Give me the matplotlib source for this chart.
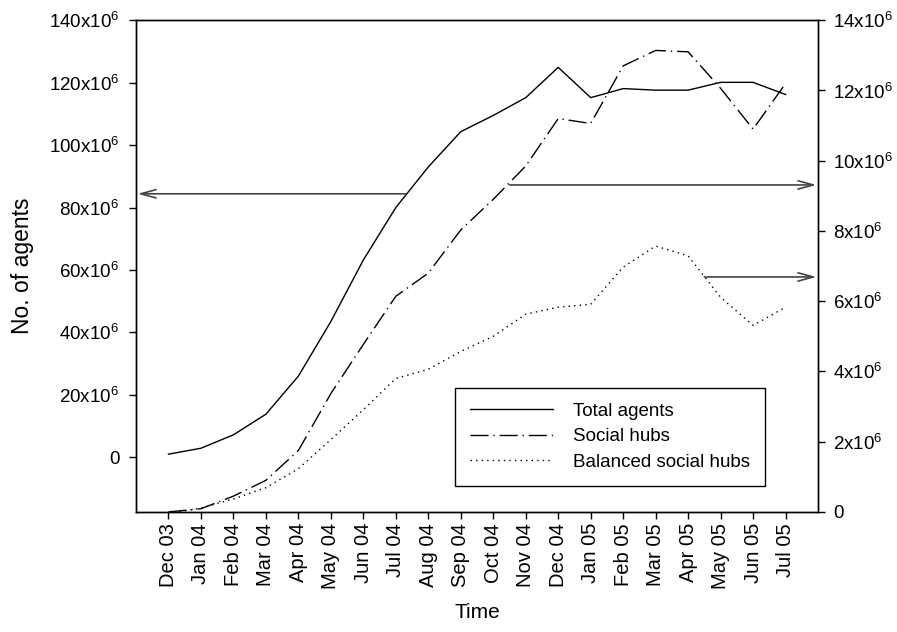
import numpy as np
import matplotlib
matplotlib.use('Agg')
import matplotlib.pyplot as plt
from matplotlib.lines import Line2D

plt.rcParams['font.family'] = ['Liberation Sans', 'DejaVu Sans']
plt.rcParams['mathtext.default'] = 'regular'

# monthly counts, in millions
months = ['Dec 03', 'Jan 04', 'Feb 04', 'Mar 04', 'Apr 04', 'May 04', 'Jun 04',
          'Jul 04', 'Aug 04', 'Sep 04', 'Oct 04', 'Nov 04', 'Dec 04', 'Jan 05',
          'Feb 05', 'Mar 05', 'Apr 05', 'May 05', 'Jun 05', 'Jul 05']
total_agents = [1.0, 2.9, 7.2, 13.8, 26.0, 43.5, 63.2, 80.0, 93.0, 104.3,
                109.5, 115.2, 124.9, 115.2, 118.1, 117.6, 117.6, 120.1, 120.1, 116.2]
social_hubs = [0.0, 0.09, 0.45, 0.9, 1.75, 3.37, 4.77, 6.14, 6.8, 8.03,
               8.9, 9.85, 11.2, 11.06, 12.7, 13.14, 13.1, 12.06, 10.9, 12.2]
balanced_hubs = [-0.05, 0.11, 0.37, 0.69, 1.23, 2.06, 2.91, 3.8, 4.06, 4.57,
                 5.0, 5.63, 5.83, 5.91, 6.97, 7.57, 7.29, 6.11, 5.31, 5.83]

left_ticks = np.arange(0, 141, 20)
right_ticks = np.arange(0, 15, 2)

x = np.arange(len(months))

fig = plt.figure(figsize=(8.97, 6.32), dpi=100)
ax = fig.add_axes([0.1516, 0.19, 0.7604, 0.778])
ax2 = ax.twinx()

lw = 1.0
ax.plot(x, total_agents, color='black', lw=lw, solid_joinstyle='round')
ax2.plot(x, social_hubs, color='black', lw=lw, dashes=(13, 3.5, 1, 3.5))
ax2.plot(x, balanced_hubs, color='black', lw=lw, dashes=(1, 3))

ax.set_xlim(-1, 20)
ax.set_ylim(-17.5, 140)
ax2.set_ylim(0, 14)

ax.set_xticks(x)
ax.set_xticklabels(months, rotation=90, fontsize=14.5)
ax.set_yticks(left_ticks)
ax.set_yticklabels(['0' if v == 0 else '%dx10$^6$' % v for v in left_ticks], fontsize=13.5)
ax2.set_yticks(right_ticks)
ax2.set_yticklabels(['0' if v == 0 else '%dx10$^6$' % v for v in right_ticks], fontsize=13.5)

for a in (ax, ax2):
    a.tick_params(direction='out', length=5, width=1, colors='black')
    for s in a.spines.values():
        s.set_linewidth(1.0)
ax.tick_params(axis='x', pad=3)
ax.tick_params(axis='y', pad=7)
ax2.tick_params(axis='y', pad=6)

ax.set_xlabel('Time', fontsize=15, labelpad=10)
ax.set_ylabel('No. of agents', fontsize=16.5, labelpad=11)

# arrows marking which axis each series belongs to
arrow = dict(arrowstyle='->,head_length=1.1,head_width=0.3', color='#444444', lw=1.2,
             shrinkA=0, shrinkB=0)
ax.annotate('', xy=(-0.95, 84.4), xytext=(7.3, 84.4), arrowprops=arrow)
ax2.annotate('', xy=(19.95, 9.31), xytext=(10.5, 9.31), arrowprops=arrow)
ax2.annotate('', xy=(19.95, 6.69), xytext=(16.5, 6.69), arrowprops=arrow)

handles = [Line2D([], [], color='black', lw=lw),
           Line2D([], [], color='black', lw=lw, dashes=(13, 3.5, 1, 3.5)),
           Line2D([], [], color='black', lw=lw, dashes=(1, 3))]
leg = ax2.legend(handles, ['Total agents', 'Social hubs', 'Balanced social hubs'],
                 loc='lower left', bbox_to_anchor=(0.468, 0.053),
                 fontsize=13.5, handlelength=4.4, handletextpad=1.1,
                 labelspacing=0.45, borderpad=0.8, borderaxespad=0,
                 fancybox=False, framealpha=1, edgecolor='black')
leg.get_frame().set_linewidth(1.0)

fig.savefig('out.png', dpi=100)
